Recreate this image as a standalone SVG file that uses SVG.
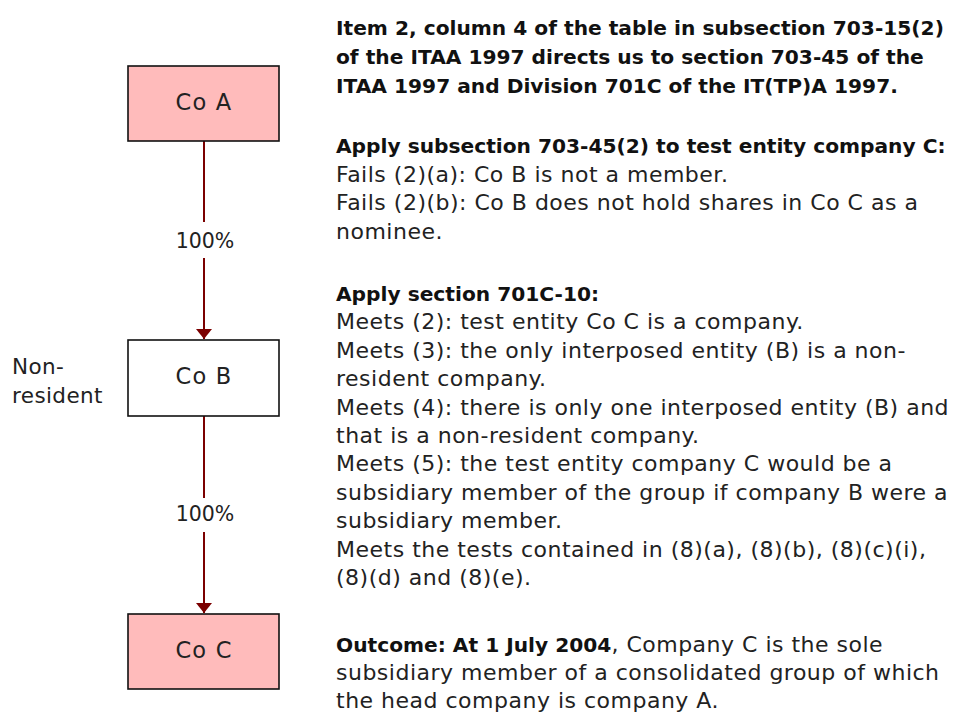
<svg xmlns="http://www.w3.org/2000/svg" width="963" height="715" viewBox="0 0 963 715">
<defs>
<style>
.box{stroke:#111;stroke-width:1.6}
.pink{fill:#FFBBBB}
.white{fill:#FFFFFF}
.lbl{font-family:"DejaVu Sans",sans-serif;font-size:22.5px;fill:#222;text-anchor:middle;letter-spacing:1.2px}
.pct{font-family:"DejaVu Sans",sans-serif;font-size:20.5px;fill:#222;text-anchor:middle}
.side{font-family:"DejaVu Sans",sans-serif;font-size:21.5px;fill:#222;letter-spacing:0.4px}
.conn{stroke:#7B0000;stroke-width:2;fill:none}
.b{font-family:"DejaVu Sans",sans-serif;font-size:20.2px;font-weight:bold;fill:#111}
.n{font-family:"DejaVu Sans",sans-serif;font-size:22px;fill:#222;letter-spacing:0.5px}
.nb{font-weight:bold;font-size:20.2px;fill:#111;letter-spacing:0}
</style>
<marker id="arr" viewBox="0 0 10 16" refX="10" refY="8" markerWidth="10" markerHeight="16" markerUnits="userSpaceOnUse" orient="auto">
<path d="M0,0 L10,8 L0,16 z" fill="#7B0000"/>
</marker>
</defs>
<rect width="963" height="715" fill="#FFFFFF"/>
<g id="connectors">
<line class="conn" x1="204" y1="141" x2="204" y2="339" marker-end="url(#arr)"/>
<rect x="180" y="222" width="48" height="36" fill="#FFFFFF"/>
<text class="pct" x="205" y="248">100%</text>
<line class="conn" x1="204" y1="416" x2="204" y2="613" marker-end="url(#arr)"/>
<rect x="180" y="498" width="48" height="34" fill="#FFFFFF"/>
<text class="pct" x="205" y="521">100%</text>
</g>
<g id="coA">
<rect class="box pink" x="128" y="66" width="151" height="75"/>
<text class="lbl" x="204" y="110">Co A</text>
</g>
<g id="coB">
<rect class="box white" x="128" y="340" width="151" height="76"/>
<text class="lbl" x="204" y="384">Co B</text>
</g>
<g id="coC">
<rect class="box pink" x="128" y="614" width="151" height="75"/>
<text class="lbl" x="204" y="658">Co C</text>
</g>
<g id="nonresident">
<text class="side" x="12" y="374">Non-</text>
<text class="side" x="12" y="403">resident</text>
</g>
<g id="notes">
<text class="b" x="336" y="35">Item 2, column 4 of the table in subsection 703-15(2)</text>
<text class="b" x="336" y="64">of the ITAA 1997 directs us to section 703-45 of the</text>
<text class="b" x="336" y="93">ITAA 1997 and Division 701C of the IT(TP)A 1997.</text>
<text class="b" x="336" y="153">Apply subsection 703-45(2) to test entity company C:</text>
<text class="n" x="336" y="181.5">Fails (2)(a): Co B is not a member.</text>
<text class="n" x="336" y="210">Fails (2)(b): Co B does not hold shares in Co C as a</text>
<text class="n" x="336" y="238.5">nominee.</text>
<text class="b" x="336" y="301">Apply section 701C-10:</text>
<text class="n" x="336" y="329.4">Meets (2): test entity Co C is a company.</text>
<text class="n" x="336" y="357.8">Meets (3): the only interposed entity (B) is a non-</text>
<text class="n" x="336" y="386.2">resident company.</text>
<text class="n" x="336" y="414.6">Meets (4): there is only one interposed entity (B) and</text>
<text class="n" x="336" y="443">that is a non-resident company.</text>
<text class="n" x="336" y="471.4">Meets (5): the test entity company C would be a</text>
<text class="n" x="336" y="499.8">subsidiary member of the group if company B were a</text>
<text class="n" x="336" y="528.2">subsidiary member.</text>
<text class="n" x="336" y="556.6">Meets the tests contained in (8)(a), (8)(b), (8)(c)(i),</text>
<text class="n" x="336" y="585">(8)(d) and (8)(e).</text>
<text class="n" x="336" y="652"><tspan class="nb">Outcome: At 1 July 2004</tspan>, Company C is the sole</text>
<text class="n" x="336" y="680">subsidiary member of a consolidated group of which</text>
<text class="n" x="336" y="708">the head company is company A.</text>
</g>
</svg>
